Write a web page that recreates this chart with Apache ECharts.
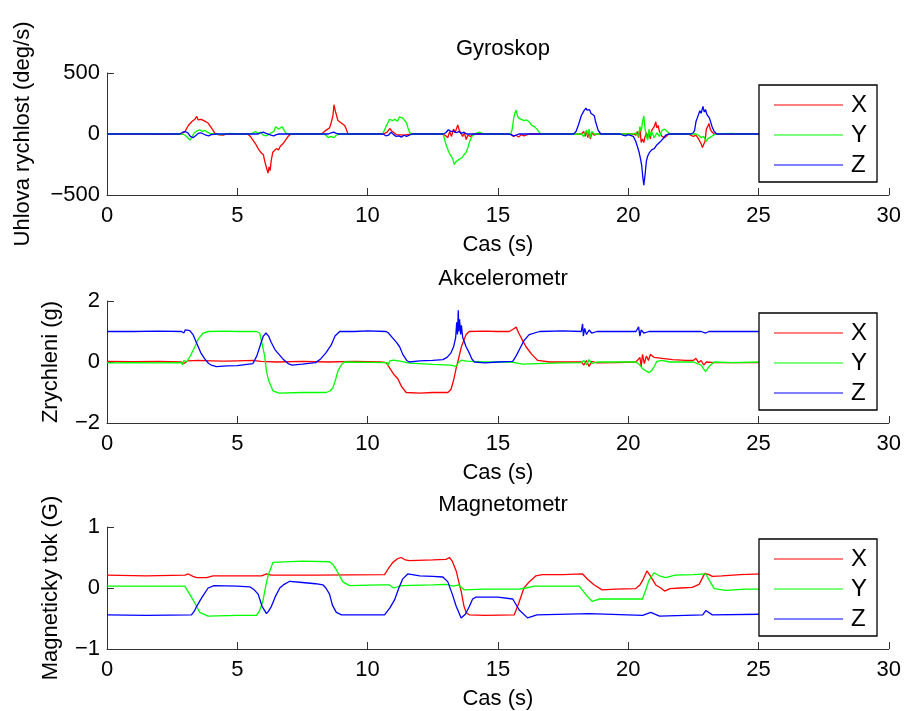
<!DOCTYPE html>
<html>
<head>
<meta charset="utf-8">
<script src="https://cdn.jsdelivr.net/npm/echarts@6/dist/echarts.min.js"></script>
<style>
html,body{margin:0;padding:0;background:#fff;}
#c{width:904px;height:711px;}
</style>
</head>
<body>
<div id="c"></div>
<script>
// ---- data (time in s, value) ----
const titles = ['Gyroskop', 'Akcelerometr', 'Magnetometr'];
const yNames = ['Uhlova rychlost (deg/s)', 'Zrychleni (g)', 'Magneticky tok (G)'];
const xName = 'Cas (s)';
const seriesNames = ['X', 'Y', 'Z'];
const xRange = [0, 30, 5];
const yRanges = [[-500, 500, 500], [-2, 2, 2], [-1, 1, 1]];

const gyroX = [[0,0],[1,2],[2,-2],[2.86,0],[2.99,20],[3.12,70],[3.25,100],[3.37,120],[3.44,144],[3.5,115],[3.56,130],[3.62,120],[3.69,135],[3.75,105],[3.82,110],[3.88,90],[3.95,80],[4.07,30],[4.14,5],[4.3,-8],[4.46,-10],[4.6,0],[5.41,0],[5.5,-20],[5.6,-50],[5.7,-80],[5.75,-70],[5.8,-120],[5.9,-150],[5.95,-140],[6.0,-170],[6.05,-220],[6.1,-260],[6.15,-300],[6.18,-320],[6.22,-270],[6.26,-300],[6.3,-220],[6.36,-150],[6.42,-160],[6.5,-120],[6.58,-130],[6.65,-100],[6.75,-80],[6.85,-50],[6.95,-20],[7.05,0],[8.2,0],[8.29,10],[8.4,30],[8.54,50],[8.6,90],[8.67,150],[8.71,240],[8.76,190],[8.8,160],[8.86,110],[8.92,100],[8.99,90],[9.05,75],[9.12,70],[9.18,40],[9.25,0],[10.6,0],[10.75,15],[10.85,45],[10.95,20],[11.1,-5],[11.4,-10],[11.7,0],[12.9,0],[13.0,-15],[13.08,-30],[13.15,20],[13.22,-20],[13.3,40],[13.36,10],[13.46,75],[13.52,30],[13.59,25],[13.65,-20],[13.72,10],[13.78,-45],[13.85,-10],[13.95,-20],[14.05,0],[15.5,0],[15.6,-20],[15.7,-10],[15.8,-25],[15.9,-5],[16.0,-15],[16.2,0],[18.2,0],[18.3,20],[18.35,-20],[18.4,30],[18.45,-30],[18.5,20],[18.55,-40],[18.6,10],[18.7,-10],[18.8,0],[20.2,0],[20.3,-10],[20.35,20],[20.4,-30],[20.45,50],[20.5,-70],[20.55,-40],[20.6,-70],[20.65,-20],[20.7,10],[20.75,-30],[20.8,20],[20.85,-40],[20.9,30],[21.0,60],[21.06,100],[21.1,50],[21.15,70],[21.2,20],[21.3,-20],[21.4,-30],[21.5,-10],[21.6,0],[22.3,0],[22.4,-10],[22.5,-20],[22.6,-10],[22.7,-40],[22.8,-80],[22.85,-110],[22.9,-118],[22.95,-60],[23.0,40],[23.05,60],[23.1,86],[23.15,40],[23.2,20],[23.3,0],[25.1,0]];
const gyroY = [[0,0],[1.5,3],[2.9,0],[3.0,-10],[3.1,-30],[3.18,-50],[3.25,-30],[3.35,10],[3.45,25],[3.56,35],[3.65,20],[3.75,30],[3.85,15],[3.95,5],[4.1,0],[4.4,-5],[4.7,5],[5.0,0],[5.5,0],[5.6,10],[5.7,20],[5.8,5],[5.9,15],[6.0,-10],[6.1,-15],[6.2,-5],[6.3,10],[6.4,20],[6.47,60],[6.52,75],[6.58,40],[6.65,45],[6.72,60],[6.8,30],[6.88,5],[7.0,0],[8.3,0],[8.4,-10],[8.5,-30],[8.6,-20],[8.7,-30],[8.8,-10],[8.9,0],[10.5,0],[10.59,5],[10.7,60],[10.8,100],[10.84,121],[10.95,110],[11.05,120],[11.15,105],[11.22,140],[11.29,154],[11.35,130],[11.42,140],[11.5,90],[11.55,50],[11.62,10],[11.7,-5],[11.8,0],[12.9,0],[12.95,-10],[13.0,-80],[13.05,-110],[13.12,-150],[13.2,-180],[13.26,-200],[13.33,-250],[13.38,-230],[13.43,-245],[13.5,-210],[13.56,-200],[13.62,-195],[13.7,-170],[13.78,-150],[13.85,-110],[13.92,-60],[14.0,-20],[14.1,0],[14.2,10],[14.3,15],[14.45,0],[15.5,0],[15.55,40],[15.6,120],[15.65,170],[15.7,196],[15.75,150],[15.8,130],[15.85,140],[15.9,120],[16.0,110],[16.1,115],[16.2,100],[16.3,70],[16.4,60],[16.5,40],[16.6,10],[16.7,0],[18.2,0],[18.3,-20],[18.35,10],[18.4,30],[18.45,-10],[18.5,40],[18.55,-30],[18.6,20],[18.7,0],[20.2,0],[20.3,10],[20.4,-20],[20.45,60],[20.5,20],[20.55,100],[20.6,149],[20.65,40],[20.7,-20],[20.75,-50],[20.8,40],[20.85,-20],[20.9,20],[21.0,-30],[21.1,10],[21.2,-20],[21.3,30],[21.4,40],[21.5,20],[21.6,0],[22.6,0],[22.7,-10],[22.8,-30],[22.9,-20],[23.0,-60],[23.05,-40],[23.1,-50],[23.2,-20],[23.3,-5],[23.4,0],[24.0,5],[24.2,0],[25.1,0]];
const gyroZ = [[0,0],[2.8,0],[2.9,15],[3.0,20],[3.1,10],[3.2,-20],[3.3,-30],[3.4,-15],[3.5,5],[3.6,10],[3.7,0],[3.8,-10],[3.9,-15],[4.0,-5],[4.2,0],[5.8,0],[5.9,10],[6.0,15],[6.1,5],[6.3,-10],[6.4,-15],[6.5,-5],[6.6,0],[8.5,0],[8.6,10],[8.7,15],[8.8,5],[8.9,0],[10.6,0],[10.7,-15],[10.8,-10],[10.9,15],[11.0,-5],[11.1,-20],[11.2,-15],[11.3,-25],[11.4,-10],[11.5,-20],[11.6,-10],[11.7,0],[12.9,0],[13.0,10],[13.1,35],[13.2,20],[13.3,25],[13.4,10],[13.5,20],[13.6,5],[13.7,15],[13.8,0],[15.4,0],[15.5,-5],[15.6,-15],[15.7,-10],[15.8,0],[17.9,0],[18.0,20],[18.1,80],[18.2,150],[18.3,190],[18.38,212],[18.42,195],[18.47,185],[18.52,200],[18.57,170],[18.62,175],[18.7,150],[18.75,100],[18.85,30],[18.95,0],[19.7,0],[19.8,-10],[19.9,-15],[20.0,-5],[20.2,-20],[20.29,-60],[20.35,-100],[20.42,-150],[20.47,-200],[20.52,-260],[20.56,-350],[20.6,-420],[20.65,-330],[20.7,-220],[20.75,-180],[20.82,-150],[20.9,-130],[21.0,-120],[21.08,-95],[21.15,-90],[21.25,-60],[21.35,-35],[21.44,-10],[21.55,0],[22.4,0],[22.5,10],[22.55,30],[22.6,100],[22.65,130],[22.7,140],[22.75,190],[22.8,170],[22.87,226],[22.92,180],[22.97,200],[23.02,160],[23.07,170],[23.12,130],[23.17,120],[23.22,60],[23.3,20],[23.4,0],[25.1,0]];

const accX = [[0,0.02],[1.0,0.01],[2.0,0.02],[2.85,0.0],[2.9,0.06],[2.95,-0.05],[3.1,0.04],[3.5,0.05],[4.0,0.04],[4.5,0.03],[5.0,0.04],[5.6,0.05],[5.9,0.02],[6.5,0.0],[7.5,0.02],[8.5,0.0],[9.5,0.02],[10.5,0.0],[10.71,-0.02],[10.85,-0.2],[11.0,-0.4],[11.16,-0.55],[11.3,-0.8],[11.48,-1.0],[12.0,-1.02],[12.5,-1.0],[13.08,-1.0],[13.2,-0.9],[13.3,-0.6],[13.4,-0.2],[13.46,0.0],[13.6,0.5],[13.78,0.9],[13.9,1.0],[14.5,1.01],[15.0,1.0],[15.44,1.0],[15.6,1.08],[15.7,1.15],[15.8,0.95],[15.95,0.7],[16.08,0.5],[16.3,0.25],[16.53,0.05],[17.0,0.0],[18.2,0.0],[18.3,-0.1],[18.4,0.05],[18.5,-0.15],[18.6,0.02],[18.8,-0.03],[19.5,-0.02],[20.3,0.0],[20.45,0.15],[20.5,-0.15],[20.55,0.25],[20.62,-0.05],[20.7,0.2],[20.78,0.05],[20.85,0.25],[21.0,0.15],[21.3,0.12],[21.7,0.08],[22.2,0.05],[22.5,0.05],[22.6,0.12],[22.7,-0.02],[22.8,0.05],[22.9,-0.1],[23.0,0.0],[23.3,-0.02],[24.0,-0.02],[25.1,-0.02]];
const accY = [[0,-0.03],[1,-0.02],[2,-0.03],[2.86,-0.02],[2.9,-0.1],[2.95,0.05],[3.05,0.0],[3.2,0.2],[3.37,0.5],[3.5,0.75],[3.69,0.95],[3.9,1.0],[4.5,1.01],[5.0,1.0],[5.73,1.0],[5.86,0.95],[5.95,0.6],[6.05,0.2],[6.12,-0.3],[6.2,-0.6],[6.37,-0.95],[6.6,-1.02],[7.5,-1.0],[8.41,-1.0],[8.55,-0.95],[8.67,-0.85],[8.78,-0.55],[8.86,-0.3],[9.0,-0.08],[9.12,0.0],[10.0,-0.01],[10.75,-0.02],[10.78,-0.12],[10.85,0.04],[11.0,0.06],[11.3,0.02],[11.6,-0.04],[12.5,-0.08],[13.2,-0.1],[13.4,-0.14],[13.5,0.0],[13.6,0.06],[13.8,0.03],[14.5,0.0],[15.5,0.0],[15.7,-0.03],[15.95,-0.07],[16.5,-0.05],[17.5,-0.03],[18.2,-0.02],[18.3,0.05],[18.4,-0.1],[18.5,0.08],[18.6,-0.05],[18.8,0.0],[20.3,0.0],[20.45,-0.1],[20.55,-0.22],[20.7,-0.3],[20.8,-0.35],[20.9,-0.28],[21.0,-0.15],[21.1,0.02],[21.3,0.05],[21.6,0.0],[22.5,0.0],[22.8,-0.1],[22.97,-0.32],[23.1,-0.15],[23.3,0.0],[24,-0.02],[25.1,0.0]];
const accZ = [[0,1.0],[1,1.0],[2,1.01],[2.86,1.0],[2.9,1.05],[2.95,0.95],[3.0,1.05],[3.18,1.03],[3.3,0.9],[3.4,0.7],[3.5,0.5],[3.6,0.3],[3.75,0.1],[3.9,-0.05],[4.0,-0.1],[4.2,-0.15],[4.6,-0.13],[5.0,-0.12],[5.6,-0.05],[5.75,0.2],[5.9,0.6],[6.0,0.85],[6.1,0.95],[6.2,0.85],[6.3,0.65],[6.45,0.4],[6.6,0.25],[6.75,0.1],[6.95,-0.05],[7.1,-0.1],[7.5,-0.07],[8.0,-0.02],[8.2,0.1],[8.4,0.3],[8.6,0.55],[8.75,0.85],[8.93,1.0],[9.5,1.0],[10.0,1.02],[10.71,1.0],[10.8,0.95],[10.95,0.8],[11.1,0.65],[11.23,0.5],[11.35,0.25],[11.5,0.05],[11.6,0.0],[12.0,0.04],[12.5,0.05],[12.89,0.08],[13.05,0.15],[13.2,0.3],[13.3,0.5],[13.38,0.8],[13.42,1.3],[13.45,0.9],[13.48,1.7],[13.5,1.0],[13.53,1.4],[13.57,0.9],[13.6,1.2],[13.65,0.8],[13.78,0.5],[13.9,0.3],[14.0,0.1],[14.1,0.0],[14.5,-0.03],[15.0,0.0],[15.57,0.02],[15.7,0.2],[15.88,0.5],[16.0,0.7],[16.2,0.9],[16.6,1.0],[17.5,1.02],[18.2,1.0],[18.25,1.25],[18.28,0.85],[18.33,1.1],[18.4,0.9],[18.5,1.05],[18.6,0.95],[18.8,1.0],[20.3,1.0],[20.4,1.15],[20.45,0.85],[20.5,1.05],[20.6,0.95],[20.8,1.0],[22.8,1.0],[22.97,0.95],[23.1,1.0],[25.1,1.0]];

const magX = [[0,0.21],[1.5,0.2],[2.99,0.21],[3.12,0.23],[3.3,0.19],[3.44,0.17],[3.82,0.17],[4.07,0.2],[5.0,0.2],[5.93,0.2],[6.12,0.23],[6.3,0.21],[8.0,0.21],[10.65,0.22],[10.8,0.32],[10.97,0.42],[11.15,0.48],[11.29,0.5],[11.45,0.46],[11.6,0.45],[12.5,0.46],[13.01,0.47],[13.14,0.5],[13.25,0.44],[13.4,0.28],[13.5,0.1],[13.59,-0.05],[13.7,-0.3],[13.78,-0.4],[13.9,-0.44],[14.5,-0.45],[15.63,-0.44],[15.8,-0.25],[16.0,0.0],[16.2,0.1],[16.46,0.2],[16.7,0.22],[17.5,0.22],[18.25,0.23],[18.45,0.14],[18.7,0.05],[19.0,-0.03],[19.5,-0.02],[20.29,-0.01],[20.45,0.05],[20.55,0.12],[20.72,0.28],[20.85,0.2],[21.06,0.05],[21.25,0.0],[21.4,-0.05],[21.6,-0.01],[22.0,0.0],[22.46,0.01],[22.72,0.06],[22.94,0.24],[23.1,0.22],[23.23,0.19],[23.6,0.2],[24.3,0.22],[25.1,0.23]];
const magY = [[0,0.03],[1.5,0.03],[2.99,0.03],[3.1,-0.05],[3.31,-0.2],[3.56,-0.4],[3.88,-0.46],[5.0,-0.45],[5.73,-0.45],[5.85,-0.38],[5.99,-0.2],[6.1,0.05],[6.18,0.2],[6.37,0.42],[7.5,0.44],[8.54,0.43],[8.68,0.38],[8.8,0.3],[9.05,0.1],[9.31,0.04],[10.5,0.05],[10.84,0.05],[11.0,0.0],[11.3,0.04],[12.5,0.05],[13.0,0.06],[13.3,0.03],[13.5,0.05],[13.7,-0.03],[14.5,-0.02],[15.82,-0.02],[16.08,0.0],[16.4,0.03],[17.5,0.03],[18.12,0.03],[18.44,-0.14],[18.63,-0.22],[18.9,-0.18],[20.55,-0.18],[20.7,0.0],[20.8,0.13],[20.99,0.25],[21.2,0.2],[21.44,0.17],[21.8,0.21],[22.5,0.22],[22.98,0.23],[23.15,0.1],[23.3,-0.01],[23.74,-0.04],[24.5,-0.02],[25.1,-0.02]];
const magZ = [[0,-0.44],[1.5,-0.45],[3.24,-0.44],[3.35,-0.38],[3.44,-0.3],[3.65,-0.15],[3.88,0.0],[4.11,0.04],[5.0,0.03],[5.48,0.02],[5.65,-0.03],[5.8,-0.1],[5.95,-0.3],[6.12,-0.42],[6.2,-0.38],[6.31,-0.3],[6.45,-0.15],[6.63,0.0],[6.8,0.06],[7.01,0.11],[7.5,0.09],[8.0,0.07],[8.29,0.05],[8.4,0.0],[8.54,-0.1],[8.65,-0.28],[8.8,-0.4],[9.0,-0.44],[10.0,-0.44],[10.65,-0.44],[10.85,-0.33],[11.03,-0.2],[11.2,0.0],[11.35,0.15],[11.54,0.23],[12.0,0.2],[12.5,0.19],[12.89,0.18],[13.08,0.1],[13.25,-0.1],[13.4,-0.3],[13.59,-0.49],[13.75,-0.43],[13.91,-0.3],[14.03,-0.18],[14.16,-0.15],[15.0,-0.15],[15.57,-0.18],[15.82,-0.36],[16.14,-0.49],[16.5,-0.44],[18.5,-0.42],[20.55,-0.45],[20.87,-0.4],[21.2,-0.46],[22.86,-0.44],[22.98,-0.37],[23.23,-0.44],[25.1,-0.43]];

const panels = [[gyroX, gyroY, gyroZ], [accX, accY, accZ], [magX, magY, magZ]];
const colors = ['#ff0000', '#00ff00', '#0000ff'];

// ---- layout ----
const FONT = 'Liberation Sans, Arial, Helvetica, sans-serif';
const FS = 22;
const gridTops = [73, 301, 527];
const gridH = 122;
const titleTops = [33, 263, 489];
const legendTops = [85, 313, 539];
const yNameGaps = [73, 45, 45];
const axisColor = '#333';

const fmt = v => (v < 0 ? '\u2212' + Math.abs(v) : String(v));

const grid = [], xAxis = [], yAxis = [], series = [], title = [], legend = [];
panels.forEach((p, i) => {
  grid.push({left: 107, right: 15, top: gridTops[i], height: gridH, containLabel: false});
  title.push({
    text: titles[i], left: 498, top: titleTops[i], textAlign: 'center',
    textStyle: {fontFamily: FONT, fontSize: FS, fontWeight: 'normal', color: '#000'}
  });
  xAxis.push({
    type: 'value', gridIndex: i, min: xRange[0], max: xRange[1], interval: xRange[2],
    name: xName, nameLocation: 'middle', nameGap: 39,
    nameTextStyle: {fontFamily: FONT, fontSize: FS, color: '#000'},
    axisLine: {show: true, onZero: false, lineStyle: {color: axisColor, width: 1}},
    axisTick: {show: true, inside: true, length: 7, lineStyle: {color: axisColor}},
    axisLabel: {fontFamily: FONT, fontSize: FS, color: '#000', margin: 10, formatter: fmt},
    splitLine: {show: false}
  });
  yAxis.push({
    type: 'value', gridIndex: i, min: yRanges[i][0], max: yRanges[i][1], interval: yRanges[i][2],
    name: yNames[i], nameLocation: 'middle', nameGap: yNameGaps[i],
    nameTextStyle: {fontFamily: FONT, fontSize: FS, color: '#000'},
    axisLine: {show: true, onZero: false, lineStyle: {color: axisColor, width: 1}},
    axisTick: {show: true, inside: true, length: 7, lineStyle: {color: axisColor}},
    axisLabel: {fontFamily: FONT, fontSize: FS, color: '#000', margin: 7, formatter: fmt},
    splitLine: {show: false}
  });
  p.forEach((d, k) => {
    series.push({
      type: 'line', name: seriesNames[k], xAxisIndex: i, yAxisIndex: i,
      data: d, showSymbol: false, symbol: 'none', animation: false,
      lineStyle: {color: colors[k], width: 1.3}, itemStyle: {color: colors[k]},
      clip: true
    });
  });
  legend.push({
    data: seriesNames.map(n => ({name: n, icon: 'rect'})), orient: 'vertical', left: 759, top: legendTops[i],
    backgroundColor: '#fff', borderColor: '#000', borderWidth: 1.3, borderRadius: 0,
    padding: [8, 10, 5, 15], itemGap: 6, itemWidth: 69, itemHeight: 1.2,
    selectedMode: false,
    textStyle: {fontFamily: FONT, fontSize: 24, color: '#000', padding: [0, 0, 0, 3]}
  });
});

const chart = echarts.init(document.getElementById('c'), null, {renderer: 'canvas'});
chart.setOption({
  backgroundColor: '#fff', animation: false, color: colors,
  title, grid, xAxis, yAxis, series, legend
});
</script>
</body>
</html>
